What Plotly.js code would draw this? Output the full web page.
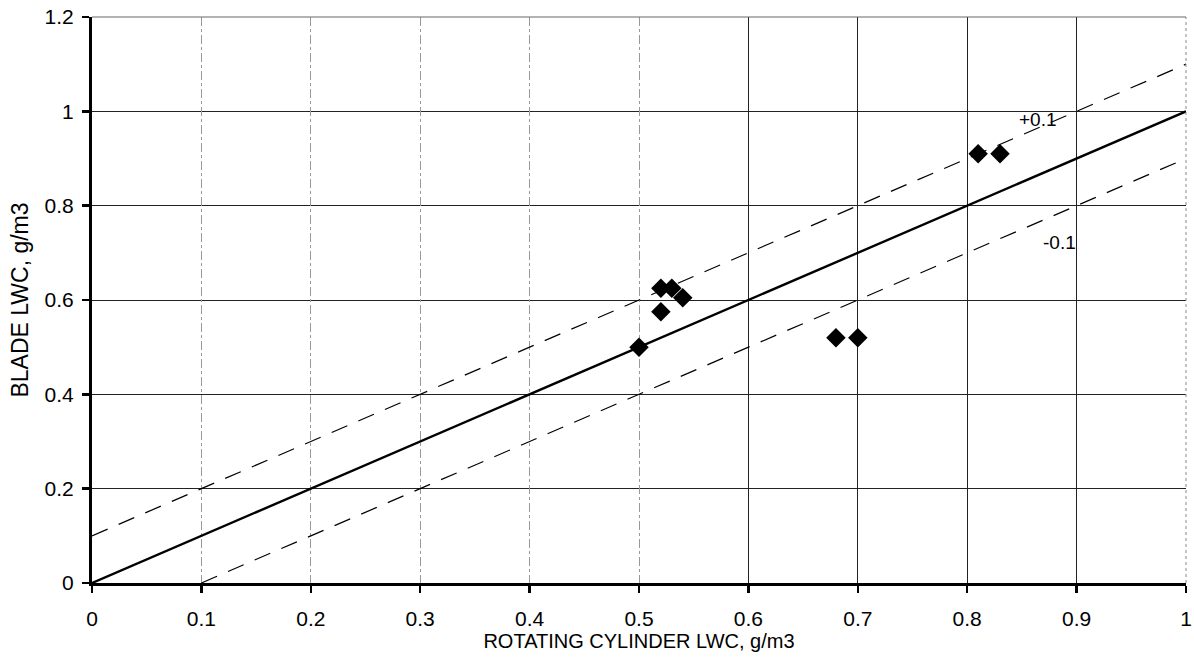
<!DOCTYPE html>
<html>
<head>
<meta charset="utf-8">
<script src="https://cdn.plot.ly/plotly-3.0.1.min.js"></script>
<style>html,body{margin:0;padding:0;background:#fff;}#chart{width:1194px;height:663px;}</style>
</head>
<body>
<div id="chart"></div>
<script>
// Measured data: rotating cylinder LWC vs blade LWC (g/m3)
const rcLWC    = [0.50, 0.52, 0.52, 0.53, 0.54, 0.68, 0.70, 0.81, 0.83];
const bladeLWC = [0.50, 0.575, 0.625, 0.625, 0.605, 0.52, 0.52, 0.91, 0.91];

// Reference lines: 1:1 and +/-0.1 bands
const lineOneX = [0, 1];
const lineOneY = [0, 1];
const linePlusX = [0, 1];
const linePlusY = [0.1, 1.1];
const lineMinusX = [0.1, 1];
const lineMinusY = [0, 0.9];

const xTicks = [0, 0.1, 0.2, 0.3, 0.4, 0.5, 0.6, 0.7, 0.8, 0.9, 1];
const xTickText = ['0','0.1','0.2','0.3','0.4','0.5','0.6','0.7','0.8','0.9','1'];
const xGridDark = [0.6, 0.7, 0.8, 0.9];
const xGridLight = [0.1, 0.2, 0.3, 0.4, 0.5];
const yTicks = [0, 0.2, 0.4, 0.6, 0.8, 1, 1.2];
const yTickText = ['0','0.2','0.4','0.6','0.8','1','1.2'];

const bandLabels = ['+0.1', '-0.1'];
const bandLabelX = [0.865, 0.884];
const bandLabelY = [0.982, 0.721];

const traces = [
  {x: lineOneX, y: lineOneY, xaxis: 'x', mode: 'lines', line: {color: '#000', width: 2.4}, hoverinfo: 'skip'},
  {x: linePlusX, y: linePlusY, xaxis: 'x2', mode: 'lines', line: {color: '#000', width: 1.2, dash: '17px,12px'}, hoverinfo: 'skip'},
  {x: lineMinusX, y: lineMinusY, xaxis: 'x3', mode: 'lines', line: {color: '#000', width: 1.2, dash: '17px,12px'}, hoverinfo: 'skip'},
  {x: rcLWC, y: bladeLWC, xaxis: 'x3', mode: 'markers', marker: {symbol: 'diamond', size: 15, color: '#000'}}
];

const fam = 'Liberation Sans, Arial, sans-serif';

const layout = {
  width: 1194, height: 663,
  margin: {l: 92, r: 8, t: 17, b: 80},
  paper_bgcolor: '#fff', plot_bgcolor: '#fff',
  showlegend: false,
  font: {family: fam, color: '#000'},
  xaxis: {
    range: [0, 1], tickvals: xTicks, ticktext: xTickText,
    tickfont: {size: 21, family: fam, color: '#000'},
    ticks: 'outside', ticklen: 7, tickwidth: 2.5, tickcolor: '#000',
    ticklabelstandoff: 8, ticklabeloverflow: 'allow',
    showline: true, linecolor: '#000', linewidth: 3,
    showgrid: false, zeroline: false,
    title: {text: 'ROTATING CYLINDER LWC, g/m3', font: {size: 20, family: fam, color: '#000'}, standoff: 0}
  },
  xaxis2: {
    range: [0, 1], overlaying: 'x', tickvals: xGridDark, showticklabels: false, ticks: '',
    showgrid: true, gridcolor: '#222', gridwidth: 1, showline: false, zeroline: false
  },
  xaxis3: {
    range: [0, 1], overlaying: 'x', tickvals: xGridLight, showticklabels: false, ticks: '',
    showgrid: true, gridcolor: '#999', gridwidth: 1, griddash: 'dashdot', showline: false, zeroline: false
  },
  yaxis: {
    range: [0, 1.2], tickvals: yTicks, ticktext: yTickText,
    tickfont: {size: 21, family: fam, color: '#000'},
    ticks: 'outside', ticklen: 7, tickwidth: 2.5, tickcolor: '#000',
    ticklabelstandoff: 4,
    showline: true, linecolor: '#000', linewidth: 3,
    showgrid: true, gridcolor: '#222', gridwidth: 1,
    zeroline: false,
    title: {text: 'BLADE LWC, g/m3', font: {size: 23, family: fam, color: '#000'}, standoff: 10}
  },
  shapes: [
    {type: 'line', xref: 'paper', yref: 'paper', x0: 1, x1: 1, y0: 0, y1: 1, line: {color: '#888', width: 1, dash: 'dot'}},
    {type: 'line', xref: 'paper', yref: 'paper', x0: 0, x1: 1, y0: 1, y1: 1, line: {color: '#666', width: 1}}
  ],
  annotations: bandLabels.map((t, i) => ({
    x: bandLabelX[i], y: bandLabelY[i], xref: 'x', yref: 'y', text: t, showarrow: false,
    font: {size: 19, family: fam, color: '#000'}
  }))
};

Plotly.newPlot('chart', traces, layout, {displayModeBar: false, staticPlot: true});
</script>
</body>
</html>
